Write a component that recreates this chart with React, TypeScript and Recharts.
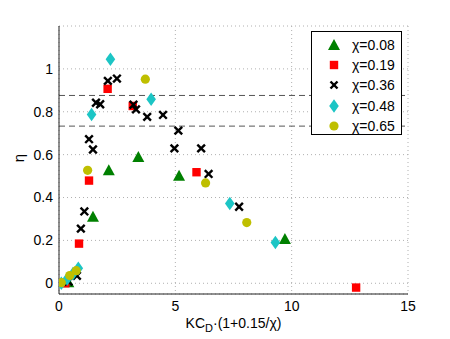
import React from 'react';
import { ScatterChart, Scatter, XAxis, YAxis, CartesianGrid, ReferenceLine, Legend } from 'recharts';

const chi008 = [
  { x: 0.4, y: 0.005 }, { x: 1.46, y: 0.31 }, { x: 2.14, y: 0.527 }, { x: 3.41, y: 0.589 },
  { x: 5.16, y: 0.502 }, { x: 9.71, y: 0.206 },
];
const chi019 = [
  { x: 0.27, y: 0.0 }, { x: 0.86, y: 0.185 }, { x: 1.29, y: 0.479 }, { x: 2.09, y: 0.907 },
  { x: 3.17, y: 0.827 }, { x: 5.91, y: 0.518 }, { x: 12.77, y: -0.02 },
];
const chi036 = [
  { x: 0.41, y: 0.008 }, { x: 0.77, y: 0.035 }, { x: 0.94, y: 0.255 }, { x: 1.09, y: 0.335 },
  { x: 1.29, y: 0.672 }, { x: 1.46, y: 0.624 }, { x: 1.59, y: 0.842 }, { x: 1.77, y: 0.835 },
  { x: 2.1, y: 0.944 }, { x: 2.49, y: 0.955 }, { x: 3.2, y: 0.833 }, { x: 3.31, y: 0.811 },
  { x: 3.79, y: 0.776 }, { x: 4.47, y: 0.785 }, { x: 4.96, y: 0.629 }, { x: 5.13, y: 0.712 },
  { x: 6.11, y: 0.629 }, { x: 6.43, y: 0.51 }, { x: 7.74, y: 0.357 },
];
const chi048 = [
  { x: 0.1, y: 0.0 }, { x: 0.35, y: 0.02 }, { x: 0.6, y: 0.045 }, { x: 0.83, y: 0.07 },
  { x: 1.4, y: 0.787 }, { x: 2.21, y: 1.045 }, { x: 3.96, y: 0.858 }, { x: 7.34, y: 0.372 },
  { x: 9.3, y: 0.19 },
];
const chi065 = [
  { x: 0.1, y: 0.003 }, { x: 0.46, y: 0.036 }, { x: 0.74, y: 0.059 }, { x: 1.23, y: 0.527 },
  { x: 3.71, y: 0.952 }, { x: 6.3, y: 0.468 }, { x: 8.07, y: 0.283 },
];
const xTicks = [0, 5, 10, 15];
const yTicks = [0, 0.2, 0.4, 0.6, 0.8, 1];
const refLevels = [0.876, 0.733];
const seriesNames = ['χ=0.08', 'χ=0.19', 'χ=0.36', 'χ=0.48', 'χ=0.65'];

const GREEN = '#008000';
const RED = '#ff0000';
const BLACK = '#000000';
const CYAN = '#1cc5c5';
const OLIVE = '#bfbf00';
const FONT = '"Liberation Sans", Arial, Helvetica, sans-serif';

const Tri = (p: any) => {
  const { cx, cy } = p;
  if (cx == null || cy == null) return null;
  return <polygon points={`${cx},${cy - 6} ${cx - 6},${cy + 5} ${cx + 6},${cy + 5}`} fill={GREEN} />;
};
const Sq = (p: any) => {
  const { cx, cy } = p;
  if (cx == null || cy == null) return null;
  return <rect x={cx - 4.2} y={cy - 4.2} width={8.4} height={8.4} fill={RED} />;
};
const Xm = (p: any) => {
  const { cx, cy } = p;
  if (cx == null || cy == null) return null;
  const s = 3.8;
  return (
    <g stroke={BLACK} strokeWidth={2.4}>
      <line x1={cx - s} y1={cy - s} x2={cx + s} y2={cy + s} />
      <line x1={cx - s} y1={cy + s} x2={cx + s} y2={cy - s} />
    </g>
  );
};
const Dia = (p: any) => {
  const { cx, cy } = p;
  if (cx == null || cy == null) return null;
  return <polygon points={`${cx},${cy - 6.8} ${cx + 4.8},${cy} ${cx},${cy + 6.8} ${cx - 4.8},${cy}`} fill={CYAN} />;
};
const Circ = (p: any) => {
  const { cx, cy } = p;
  if (cx == null || cy == null) return null;
  return <circle cx={cx} cy={cy} r={4.6} fill={OLIVE} />;
};

const legendShapes = [
  (x: number, y: number) => <polygon points={`${x},${y - 6} ${x - 6},${y + 5} ${x + 6},${y + 5}`} fill={GREEN} />,
  (x: number, y: number) => <rect x={x - 4.2} y={y - 4.2} width={8.4} height={8.4} fill={RED} />,
  (x: number, y: number) => (
    <g stroke={BLACK} strokeWidth={2.4}>
      <line x1={x - 3.5} y1={y - 3.5} x2={x + 3.5} y2={y + 3.5} />
      <line x1={x - 3.5} y1={y + 3.5} x2={x + 3.5} y2={y - 3.5} />
    </g>
  ),
  (x: number, y: number) => <polygon points={`${x},${y - 6.8} ${x + 4.8},${y} ${x},${y + 6.8} ${x - 4.8},${y}`} fill={CYAN} />,
  (x: number, y: number) => <circle cx={x} cy={y} r={4.6} fill={OLIVE} />,
];

const LegendBox = () => (
  <div
    style={{
      width: 91,
      height: 104,
      background: '#fff',
      border: '1px solid #000',
      boxSizing: 'border-box',
      position: 'relative',
      fontFamily: FONT,
      fontSize: 14,
    }}
  >
    {seriesNames.map((n, i) => (
      <div key={n} style={{ position: 'absolute', left: 0, top: 3 + i * 20.2, height: 20, width: 90, display: 'flex', alignItems: 'center' }}>
        <svg width={30} height={20} style={{ display: 'block' }}>
          {legendShapes[i](22, 10)}
        </svg>
        <span style={{ marginLeft: 10, color: '#000', lineHeight: '20px' }}>{n}</span>
      </div>
    ))}
  </div>
);

const XLabel = (props: any) => {
  const vb = props.viewBox || {};
  const cx = (vb.x ?? 59) + (vb.width ?? 349) / 2;
  return (
    <text x={cx} y={328} textAnchor="middle" fontFamily={FONT} fontSize={14} fill="#000">
      <tspan>KC</tspan>
      <tspan dy={4} fontSize={11}>D</tspan>
      <tspan dy={-4}>·(1+0.15/χ)</tspan>
    </text>
  );
};

const YLabel = () => (
  <text x={24} y={158} textAnchor="middle" fontFamily={FONT} fontSize={15} fill="#000" transform="rotate(-90 24 158)">
    η
  </text>
);

export default function App() {
  return (
    <div style={{ position: 'absolute', left: 0, top: 0, width: 450, height: 339, background: '#fff' }}>
      <ScatterChart width={450} height={339} margin={{ top: 26, right: 42, bottom: 0, left: 0 }}>
        <CartesianGrid stroke="#b0b0b0" strokeDasharray="1 3" strokeWidth={1} />
        <XAxis
          type="number"
          dataKey="x"
          domain={[0, 15]}
          ticks={xTicks}
          allowDataOverflow
          height={45}
          tickLine={false}
          tickSize={0}
          tickMargin={7}
          stroke="#222"
          tick={{ fill: '#000', fontSize: 14, fontFamily: FONT }}
          label={<XLabel />}
        />
        <YAxis
          type="number"
          dataKey="y"
          domain={[-0.05, 1.2]}
          ticks={yTicks}
          allowDataOverflow
          width={59}
          tickLine={false}
          tickSize={0}
          tickMargin={6}
          stroke="#222"
          tick={{ fill: '#000', fontSize: 14, fontFamily: FONT }}
          label={<YLabel />}
        />
        {refLevels.map((v) => (
          <ReferenceLine key={v} y={v} stroke="#555" strokeDasharray="6 4" strokeWidth={1} />
        ))}
        <Scatter name={seriesNames[0]} data={chi008} shape={Tri} isAnimationActive={false} />
        <Scatter name={seriesNames[1]} data={chi019} shape={Sq} isAnimationActive={false} />
        <Scatter name={seriesNames[2]} data={chi036} shape={Xm} isAnimationActive={false} />
        <Scatter name={seriesNames[3]} data={chi048} shape={Dia} isAnimationActive={false} />
        <Scatter name={seriesNames[4]} data={chi065} shape={Circ} isAnimationActive={false} />
        <Legend
          layout="horizontal"
          verticalAlign="middle"
          align="center"
          content={<LegendBox />}
          wrapperStyle={{ position: 'absolute', left: 311, top: 31, width: 92, height: 105 }}
        />
      </ScatterChart>
    </div>
  );
}
